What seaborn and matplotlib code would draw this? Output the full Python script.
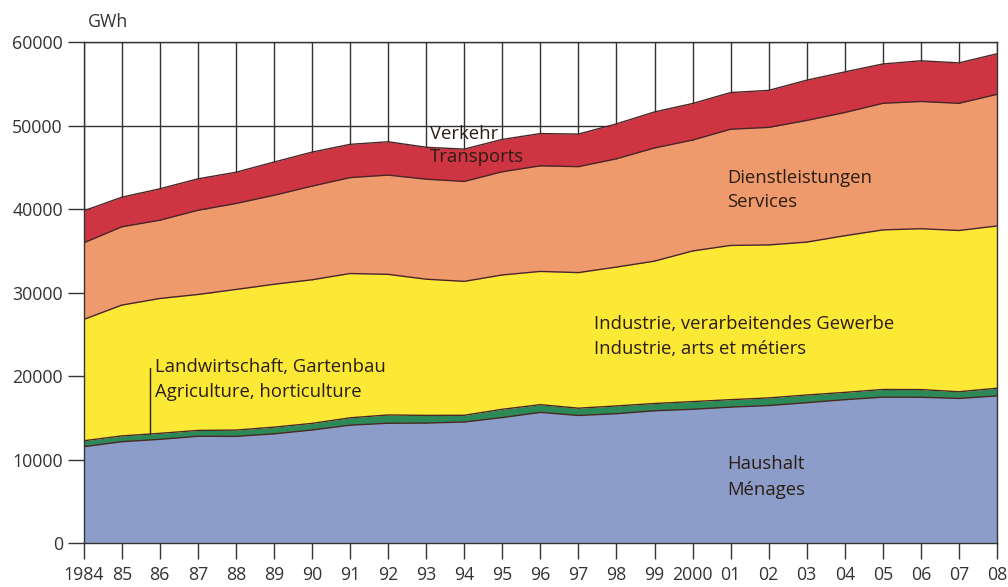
import numpy as np
import pandas as pd
import matplotlib
matplotlib.use("Agg")
import matplotlib.pyplot as plt
import seaborn as sns
from matplotlib import font_manager

# ---- data (GWh) ----
years = list(range(1984, 2009))
haushalt = [11560, 12160, 12440, 12810, 12800, 13100, 13560, 14140, 14370, 14390,
            14520, 15050, 15670, 15300, 15510, 15860, 16040, 16300, 16490, 16830,
            17190, 17490, 17480, 17340, 17640]
landwirtschaft = [710, 690, 720, 700, 750, 800, 790, 880, 990, 920,
                  800, 990, 920, 870, 930, 870, 920, 890, 910, 920,
                  870, 920, 920, 800, 920]
industrie = [14520, 15660, 16140, 16270, 16830, 17100, 17190, 17270, 16830, 16300,
             16030, 16080, 15950, 16230, 16620, 17040, 18030, 18460, 18310, 18300,
             18750, 19100, 19250, 19300, 19420]
dienstleistungen = [9170, 9370, 9370, 10080, 10290, 10650, 11210, 11480, 11880, 11970,
                    11960, 12350, 12640, 12680, 12960, 13550, 13270, 13910, 14070, 14560,
                    14750, 15150, 15230, 15220, 15750]
verkehr = [3830, 3540, 3760, 3760, 3740, 3980, 4070, 3980, 3990, 3820,
           3870, 3870, 3860, 3900, 4180, 4310, 4380, 4390, 4430, 4820,
           4860, 4710, 4870, 4840, 4860]
tick_labels = ["1984", "85", "86", "87", "88", "89", "90", "91", "92", "93", "94",
               "95", "96", "97", "98", "99", "2000", "01", "02", "03", "04", "05",
               "06", "07", "08"]
y_ticks = [0, 10000, 20000, 30000, 40000, 50000, 60000]

series = [haushalt, landwirtschaft, industrie, dienstleistungen, verkehr]
colors = ["#8C9DC9", "#2C8A58", "#FBE936", "#EF9A6C", "#CF3442"]

# ---- fonts ----
sns.set_theme(style="white")
names = {f.name for f in font_manager.fontManager.ttflist}
if "Liberation Sans Narrow" in names:
    FONT = "Liberation Sans Narrow"
    tick_fs, ann_fs = 15.5, 16.5
else:
    FONT = "Open Sans"
    tick_fs, ann_fs = 12.8, 13.3
plt.rcParams["font.family"] = [FONT, "DejaVu Sans"]
txt_color = "#2b1d14"

W, H = 1008, 587
fig = plt.figure(figsize=(W / 100, H / 100), dpi=100)
x0, x1, yb, yt = 83.7, 997.0, 543.3, 42.0
ax = fig.add_axes([x0 / W, 1 - yb / H, (x1 - x0) / W, (yb - yt) / H])

yrs = np.array(years, dtype=float)
cum = np.cumsum(np.array(series, dtype=float), axis=0)
lower = np.zeros_like(yrs)
for i, c in enumerate(colors):
    ax.fill_between(yrs, lower, cum[i], color=c, lw=0, zorder=2)
    lower = cum[i]

# boundary lines via seaborn
long = pd.DataFrame({
    "year": np.tile(yrs, len(series)),
    "value": cum.ravel(),
    "layer": np.repeat(np.arange(len(series)), len(yrs)),
})
sns.lineplot(data=long, x="year", y="value", hue="layer", units="layer",
             estimator=None, palette=["#4a2626"] * len(series), lw=1.0,
             legend=False, ax=ax, zorder=3)

ax.set_xlim(1984, 2008)
ax.set_ylim(0, 60000)
ax.set_xticks(years)
ax.set_xticklabels(tick_labels)
ax.set_yticks(y_ticks)
ax.set_yticklabels([str(v) for v in y_ticks])
ax.grid(True, color="#333333", lw=1.0, zorder=1)
ax.set_axisbelow(True)
ax.set_xlabel("")
ax.set_ylabel("")
for s in ax.spines.values():
    s.set_visible(True)
    s.set_color("#333333")
    s.set_linewidth(1.0)
    s.set_zorder(4)
ax.tick_params(axis="both", which="major", direction="out", length=11.5, width=1.0,
               color="#333333", labelsize=tick_fs, labelcolor="#333333")
ax.tick_params(axis="y", pad=3.5, left=True)
ax.tick_params(axis="x", pad=5, bottom=True)

def ann(x, y, s):
    ax.text(x, y, s, ha="left", va="center", fontsize=ann_fs, color=txt_color, zorder=5)

ann(1993.1, 48970, "Verkehr")
ann(1993.1, 46220, "Transports")
ann(2000.9, 43680, "Dienstleistungen")
ann(2000.9, 40810, "Services")
ann(1997.4, 26240, "Industrie, verarbeitendes Gewerbe")
ann(1997.4, 23250, "Industrie, arts et métiers")
ann(1985.88, 21140, "Landwirtschaft, Gartenbau")
ann(1985.88, 18150, "Agriculture, horticulture")
ann(2000.9, 9470, "Haushalt")
ann(2000.9, 6360, "Ménages")

lx = 1985.74
ax.plot([lx, lx], [np.interp(lx, yrs, cum[1]), 21000], color=txt_color, lw=1.0, zorder=5)

fig.text(88 / W, 1 - 22 / H, "GWh", ha="left", va="center", fontsize=tick_fs,
         color="#333333")

fig.savefig("out.png", dpi=100, facecolor="white")
